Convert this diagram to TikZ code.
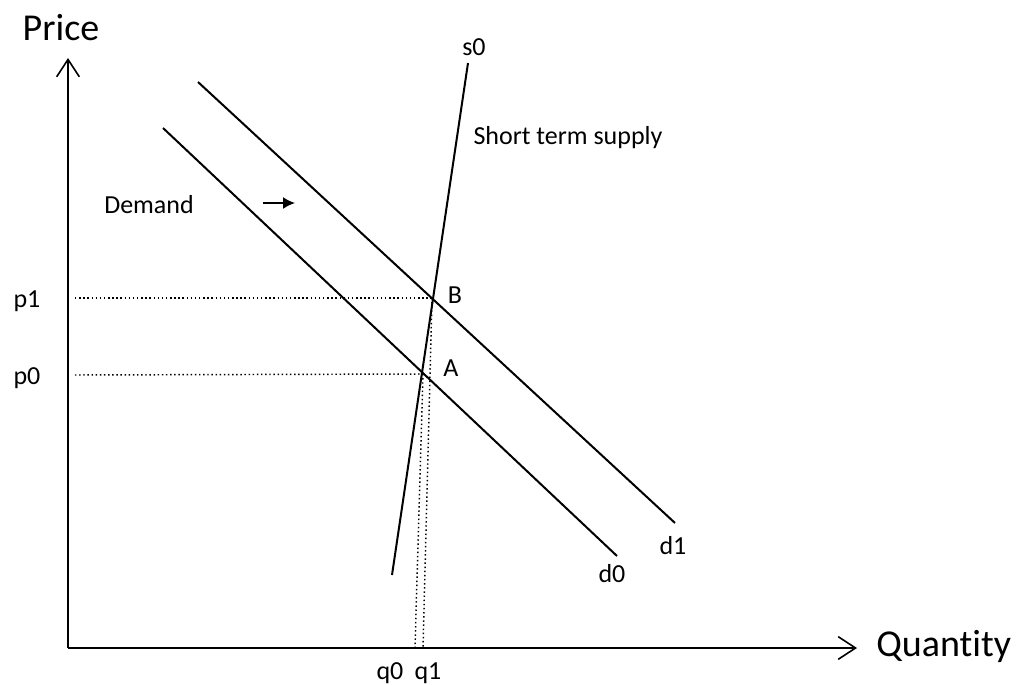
\documentclass[tikz,border=0pt]{standalone}
\usepackage{fontspec}
\setmainfont{Carlito}[Ligatures=NoCommon]
\usetikzlibrary{arrows.meta}
\begin{document}
\begin{tikzpicture}[x=0.75pt,y=-0.75pt,
  axis/.style={line width=1.4pt,-{Straight Barb[length=13pt,width=17pt,line width=1.2pt]}},
  curve/.style={line width=1.5pt},
  guide/.style={line width=1.1pt,dotted},
  lbl/.style={inner sep=0pt,font=\fontsize{19.5pt}{22pt}\selectfont},
  big/.style={inner sep=0pt,font=\fontsize{28.5pt}{32pt}\selectfont}]
\useasboundingbox (0,0) rectangle (1025,685);
% axes
\coordinate (O) at (68,648);
\coordinate (ytop) at (68,58);
\coordinate (xend) at (857,648);
\draw[axis] (O) -- (ytop);
\draw[axis] (O) -- (xend);
\node[big] (price) at (61,28) {Price};
\node[big,anchor=west] (qty) at (876,646) {Quant\kern0pt ity};
% demand and supply curves
\coordinate (d0a) at (163,128);
\coordinate (d0b) at (617,556);
\coordinate (d1a) at (198,82);
\coordinate (d1b) at (675,523);
\coordinate (s0a) at (468,63);
\coordinate (s0b) at (392,575);
\draw[curve] (d0a) -- (d0b);
\draw[curve] (d1a) -- (d1b);
\draw[curve] (s0a) -- (s0b);
% equilibria
\coordinate (A) at (423,374);
\coordinate (B) at (432,298);
\coordinate (p1s) at (75,298);
\coordinate (p0s) at (75,375);
\coordinate (q0e) at (415,648);
\coordinate (q1e) at (423,648);
\draw[guide] (p1s) -- (B);
\draw[guide] (p0s) -- (A);
\draw[guide] (A) -- (q0e);
\draw[guide] (B) -- (q1e);
% labels
\node[lbl] (s0) at (474,47) {s0};
\node[lbl] (sts) at (568,138) {Short term supply};
\node[lbl] (dem) at (149,205) {Demand};
\node[lbl] (d0) at (612,574) {d0};
\node[lbl] (d1) at (673,546) {d1};
\node[lbl] (Bl) at (455,295) {B};
\node[lbl] (Al) at (451,368) {A};
\node[lbl] (p1) at (27,301) {p1};
\node[lbl] (p0) at (27,378) {p0};
\node[lbl] (q0) at (390,673) {q0};
\node[lbl] (q1) at (428,673) {q1};
% shift arrow
\coordinate (sh0) at (263,203);
\coordinate (sh1) at (295,203);
\draw[line width=1.2pt,-{Latex[length=9pt,width=9pt]}] (sh0) -- (sh1);
\end{tikzpicture}
\end{document}
